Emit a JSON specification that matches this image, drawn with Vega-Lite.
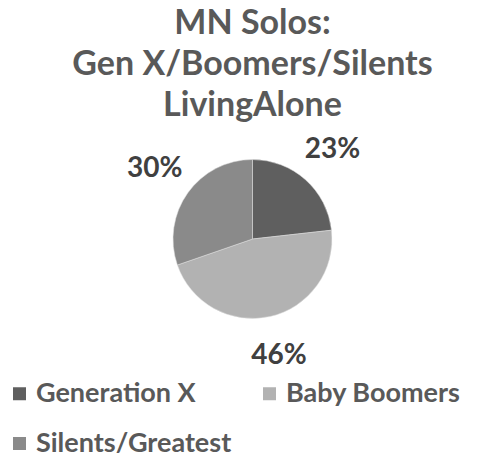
{
  "$schema": "https://vega.github.io/schema/vega-lite/v6.json",
  "autosize": {"type": "none"},
  "width": 465,
  "height": 228,
  "padding": {"left": 20, "top": 125, "right": 0, "bottom": 105},
  "background": "white",
  "title": {
    "text": ["MN Solos:", "Gen X/Boomers/Silents", "LivingAlone"],
    "font": "Lato",
    "fontSize": 34,
    "fontWeight": "bold",
    "color": "#595959",
    "lineHeight": 41,
    "anchor": "middle",
    "offset": 2
  },
  "data": {
    "values": [
      {"category": "Generation X", "share": 0.23, "rank": 1},
      {"category": "Baby Boomers", "share": 0.46, "rank": 2},
      {"category": "Silents/Greatest", "share": 0.30, "rank": 3}
    ]
  },
  "encoding": {
    "theta": {"field": "share", "type": "quantitative", "stack": true},
    "order": {"field": "rank", "type": "quantitative"}
  },
  "layer": [
    {
      "mark": {"type": "arc", "outerRadius": 79.5, "stroke": "#e0e0e0", "strokeWidth": 0.5},
      "encoding": {
        "color": {
          "field": "category",
          "type": "nominal",
          "sort": null,
          "scale": {
            "domain": ["Generation X", "Baby Boomers", "Silents/Greatest"],
            "range": ["#5f5f5f", "#b2b2b2", "#8a8a8a"]
          },
          "legend": {
            "title": null,
            "orient": "none",
            "legendX": -14,
            "legendY": 255,
            "padding": 0,
            "direction": "horizontal",
            "columns": 2,
            "columnPadding": 24,
            "rowPadding": 22,
            "symbolType": "square",
            "symbolSize": 169,
            "symbolStrokeWidth": 0,
            "labelFont": "Lato",
            "labelFontSize": 27,
            "labelFontWeight": "bold",
            "labelColor": "#595959",
            "labelOffset": 3,
            "labelLimit": 400
          }
        }
      }
    },
    {
      "mark": {"type": "text", "radius": 120, "font": "Lato", "fontSize": 28, "fontWeight": "bold", "fill": "#404040"},
      "encoding": {
        "text": {"field": "share", "type": "quantitative", "format": ".0%"}
      }
    }
  ]
}
